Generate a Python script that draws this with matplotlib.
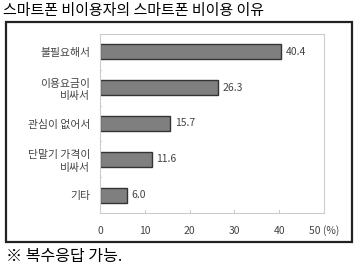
import matplotlib.pyplot as plt
from matplotlib.patches import Rectangle

plt.rcParams['font.family'] = ['Noto Sans CJK KR', 'DejaVu Sans']

categories = ['불필요해서', '이용요금이\n비싸서', '관심이 없어서', '단말기 가격이\n비싸서', '기타']
values = [40.4, 26.3, 15.7, 11.6, 6.0]
xticks = [0, 10, 20, 30, 40, 50]

W, H = 357, 270
fig = plt.figure(figsize=(W / 100, H / 100), dpi=100)
ax = fig.add_axes([100 / W, 1 - 213 / H, 224 / W, 179 / H])

y = list(range(len(categories)))
ax.barh(y, values, height=0.42, color='#7f7f7f', edgecolor='#333333', linewidth=1.0)
for yi, v in zip(y, values):
    ax.text(v + 1.0, yi, f'{v:.1f}', va='center', ha='left', fontsize=7.5, color='#444444')

ax.set_xlim(0, 50)
ax.set_ylim(len(categories) - 0.5, -0.5)
ax.set_yticks(y)
ax.set_yticklabels(categories, fontsize=7.8, color='#444444', linespacing=1.3)
ax.set_xticks(xticks)
ax.set_xticklabels([str(t) for t in xticks[:-1]] + ['50 (%)'], fontsize=7.5, color='#444444')
ax.tick_params(axis='both', length=0, pad=7)
ax.tick_params(axis='x', pad=9)
for s in ax.spines.values():
    s.set_color('#cccccc')
    s.set_linewidth(0.8)
# small inward tick marks
for t in xticks[1:-1]:
    ax.plot([t, t], [4.5, 4.43], color='#cccccc', lw=0.8, clip_on=False)
for b in [0.5, 1.5, 2.5, 3.5]:
    ax.plot([0, 0.3], [b, b], color='#cccccc', lw=0.8)

fig.patches.append(Rectangle((6 / W, 1 - 242 / H), 346 / W, 220 / H, transform=fig.transFigure,
                             fill=False, edgecolor='#222222', linewidth=1.6))
fig.text(3 / W, 1 - 11 / H, '스마트폰 비이용자의 스마트폰 비이용 이유', fontsize=10.8, va='center', ha='left')
fig.text(6 / W, 1 - 256 / H, '※ 복수응답 가능.', fontsize=11.5, va='center', ha='left')

fig.savefig('out.png', dpi=100)
